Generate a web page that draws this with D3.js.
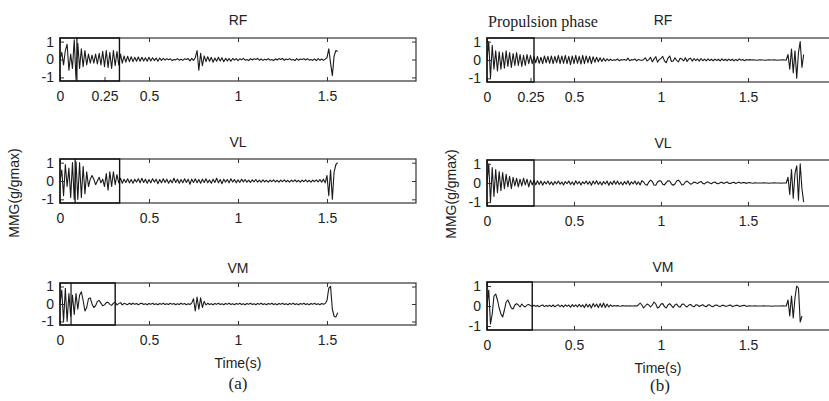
<!DOCTYPE html>
<html>
<head>
<meta charset="utf-8">
<script src="https://cdn.jsdelivr.net/npm/d3@7"></script>
<style>
  body { margin: 0; background: #fff; }
  svg text { font-family: "Liberation Sans", Arial, sans-serif; fill: #222; }
  .serif { font-family: "Liberation Serif", "Times New Roman", serif !important; }
</style>
</head>
<body>
<div id="chart"></div>
<script>
// sampling interval of the traces (s)
const dt = 0.01;

// (a) traces, one value per sample, normalised g/gmax
const aRF = [0, 0.4, -0.3, 0.5, 0.85, -0.6, 0.3, -0.5, 1.1, -1.1,
  0.9, -0.5, 0.6, -0.4, 0.5, -0.3, 0.3, -0.2, 0.25, -0.2,
  0.3, -0.25, 0.35, -0.3, 0.45, -0.4, 0.5, -0.45, 0.4, -0.5,
  0.5, -0.35, 0.45, -0.3, 0.3, -0.2, 0.2, -0.15, 0.18, -0.12,
  0.15, -0.12, 0.12, -0.1, 0.14, -0.1, 0.12, -0.08, 0.1, -0.1,
  0.12, -0.08, 0.1, -0.06, 0.08, -0.1, 0.08, -0.05, 0.06, -0.04,
  0.05, -0.01, 0.04, -0.06, 0.0, -0.02, 0.05, -0.04, 0.01, -0.05,
  0.04, 0.0, 0.05, -0.08, 0.06, -0.05, 0.1, 0.5, -0.6, 0.35,
  -0.35, 0.2, -0.12, 0.15, -0.1, 0.12, -0.15, 0.08, -0.1, 0.12,
  -0.08, 0.1, -0.12, 0.06, -0.08, 0.05, -0.1, 0.06, -0.04, 0.05,
  -0.06, 0.04, -0.01, 0.06, -0.04, 0.0, -0.06, 0.05, -0.03, 0.04,
  0.0, 0.06, -0.04, 0.03, -0.05, 0.01, -0.03, 0.05, -0.04, 0.0,
  -0.06, 0.04, -0.03, 0.05, 0.0, 0.06, -0.05, 0.03, -0.01, 0.05,
  -0.03, 0.0, -0.06, 0.05, -0.04, 0.03, 0.0, 0.04, -0.03, 0.05,
  -0.04, 0.0, -0.05, 0.04, -0.06, 0.05, -0.04, 0.03, -0.05, 0.02,
  0.1, 0.6, -0.2, -0.9, 0.2, 0.5, 0.45];

const aVL = [0, 0.6, -0.8, 0.9, -0.3, 0.7, -0.9, 1.0, -1.0, 1.05,
  -1.0, 1.0, -0.9, 0.8, -0.7, 0.5, -0.3, 0.1, 0.3, 0.1,
  -0.2, 0.0, 0.2, -0.1, 0.1, -0.3, 0.4, -0.5, 0.5, -0.3,
  0.5, -0.2, 0.35, -0.1, 0.15, -0.12, 0.1, -0.08, 0.12, -0.1,
  0.08, -0.12, 0.1, -0.06, 0.12, -0.1, 0.15, -0.08, 0.1, -0.12,
  0.08, -0.1, 0.12, -0.06, 0.1, -0.15, 0.08, -0.1, 0.12, -0.08,
  0.1, -0.12, 0.06, -0.1, 0.15, -0.08, 0.1, -0.12, 0.08, -0.1,
  0.12, -0.08, 0.1, -0.18, 0.1, -0.08, 0.12, -0.1, 0.08, -0.12,
  0.1, -0.08, 0.12, -0.1, 0.06, -0.12, 0.1, -0.08, 0.15, -0.1,
  0.08, -0.15, 0.1, -0.06, 0.08, -0.1, 0.12, -0.06, 0.08, -0.1,
  0.06, -0.08, 0.1, -0.05, 0.08, -0.06, 0.05, -0.08, 0.06, -0.05,
  0.08, -0.06, 0.05, -0.07, 0.06, -0.05, 0.04, -0.06, 0.05, -0.04,
  0.06, -0.05, 0.04, -0.06, 0.05, -0.04, 0.06, -0.05, 0.04, -0.06,
  0.05, -0.04, 0.06, -0.05, 0.04, -0.06, 0.05, -0.04, 0.06, -0.05,
  0.04, -0.06, 0.05, -0.04, 0.06, -0.05, 0.08, -0.06, 0.1, -0.1,
  0.3, -0.8, 0.6, -1.0, 0.5, 0.9, 1.0];

const aVM = [0, 0.8, -1.0, 0.9, -1.0, 0.6, -0.7, 0.5, -0.6, 0.6,
  -0.3, 0.5, 0.7, 0.2, -0.4, -0.2, 0.3, 0.35, 0.0, -0.2,
  -0.1, 0.15, 0.2, 0.05, -0.1, -0.05, 0.08, 0.1, -0.02, -0.08,
  0.05, 0.1, -0.05, 0.02, 0.08, -0.05, 0.04, 0.0, -0.04, 0.05,
  -0.03, 0.04, -0.02, 0.03, -0.04, 0.02, 0.04, -0.03, 0.02, -0.04,
  0.03, -0.02, 0.04, -0.03, 0.02, -0.04, 0.03, -0.02, 0.04, -0.03,
  0.02, -0.03, 0.04, -0.02, 0.03, -0.04, 0.02, -0.03, 0.04, -0.02,
  0.03, -0.04, 0.02, -0.03, 0.05, 0.3, -0.4, 0.4, -0.3, 0.35,
  -0.2, 0.15, -0.05, 0.04, -0.03, 0.02, -0.04, 0.03, -0.02, 0.04,
  -0.03, 0.02, -0.04, 0.03, -0.02, 0.04, -0.03, 0.02, -0.04, 0.03,
  -0.02, 0.04, -0.03, 0.02, -0.04, 0.03, -0.02, 0.04, -0.03, 0.02,
  -0.04, 0.03, -0.02, 0.04, -0.03, 0.02, -0.04, 0.03, -0.02, 0.04,
  -0.03, 0.02, -0.04, 0.03, -0.02, 0.04, -0.03, 0.02, -0.04, 0.03,
  -0.02, 0.04, -0.03, 0.02, -0.04, 0.03, -0.02, 0.04, -0.03, 0.02,
  -0.04, 0.03, -0.02, 0.04, -0.03, 0.02, -0.04, 0.03, -0.02, 0.03,
  0.2, 0.9, 1.0, -0.3, -0.7, -0.75, -0.5];

// (b) traces
const bRF = [0, 1.0, -1.0, 0.8,
  -0.5, 0.5, -0.6, 0.45, -0.5, 0.4, -0.45, 0.5, -0.35, 0.4,
  -0.4, 0.35, -0.3, 0.4, -0.3, 0.3, -0.35, 0.25, -0.3, 0.3, -0.2, 0.25, -0.2,
  0.2, -0.15, 0.2, -0.18, 0.15, -0.2, 0.22, -0.15, 0.2, -0.18,
  0.22, -0.2, 0.2, -0.15, 0.25, -0.2, 0.22, -0.18, 0.25, -0.2,
  0.2, -0.25, 0.22, -0.2, 0.25, -0.18, 0.2, -0.22, 0.25, -0.2,
  0.22, -0.15, 0.2, -0.2, 0.18, -0.12, 0.15, -0.1, 0.12, -0.08,
  0.1, -0.06, 0.06, -0.04, 0.05, -0.03,
  0.02, -0.02, 0.06, -0.04, 0.02, 0.0, 0.03, -0.02, 0.1, -0.04,
  0.02, 0.0, 0.06, -0.05, 0.03, 0.0, -0.02, 0.02,
  0.12, -0.05, 0.02, 0.15, -0.1, 0.05, 0.18, -0.12, 0.02, 0.08,
  0.2, -0.05, -0.15, 0.1, 0.22, -0.08, -0.05, 0.12, -0.02, -0.1,
  0.1, 0.05, -0.05, 0.12, -0.08, 0.06, 0.1, -0.06, 0.08, -0.04,
  0.06, -0.06, 0.08, -0.04, 0.05, -0.05, 0.06, -0.03, 0.04, -0.05,
  0.05, -0.03, 0.04, -0.05, 0.06, -0.03, 0.04, -0.04, 0.05, -0.03,
  0.04, -0.05, 0.03, -0.04, 0.06, -0.02, 0.03, -0.04, 0.02, 0.0, 0.02,
  0, 0.01, 0, -0.01, 0, 0.01, 0, 0, -0.01, 0, 0.01, 0, 0, 0.01, 0, -0.01, 0, 0, 0.01, 0, 0,
  0.3, -0.5, 0.6, -0.7, 0.5, -1.0, 0.4, 1.0, -0.4, 0.3];

const bVL = [0, 1.0, -1.0, 0.8, -0.7, 0.7, -0.5, 0.6, -0.4, 0.55,
  -0.3, 0.45, -0.2, 0.35, -0.3, 0.3, -0.15, 0.25, -0.2, 0.2,
  -0.15, 0.25, -0.1, 0.2, -0.2, 0.15, -0.1,
  0.15, -0.1, 0.12, -0.08, 0.1, -0.12, 0.08, -0.05, 0.1, -0.08,
  0.06, -0.1, 0.08, -0.05, 0.1, -0.06, 0.05, -0.1, 0.08, -0.04,
  0.1, -0.08, 0.06, -0.1, 0.12, -0.05, 0.08, -0.1, 0.06, -0.04,
  0.1, -0.06, 0.08, -0.12, 0.1, -0.05, 0.12, -0.08, 0.06, -0.1,
  0.08, -0.05, 0.1, -0.12, 0.06, -0.08, 0.12, -0.06, 0.1, -0.08,
  0.05, -0.1, 0.08, -0.06, 0.12, -0.1, 0.06, -0.05, 0.1, -0.08,
  0.06, -0.1, 0.12, 0.05, -0.08, -0.12, 0.05, 0.15, 0.08, -0.1,
  -0.12, 0.05, 0.12, 0.1, -0.06, -0.1, 0.02, 0.12, 0.1, -0.05,
  -0.12, -0.05, 0.1, 0.15, 0.05, -0.1, -0.08, 0.05, 0.1, 0.02,
  -0.06, -0.02, 0.05, 0.02, -0.03, 0.04, 0.08, -0.02, -0.05, 0.03,
  0.06, 0.0, -0.04, 0.03, 0.05, -0.02, -0.04, 0.02, 0.04, -0.03,
  0.02, 0.05, -0.02, -0.03, 0.03, 0.04, -0.03, 0.02, 0.04, -0.02,
  0.03, 0.02, -0.02, 0.01, 0.02, 0.0, -0.01, 0.01, 0.0, 0.0,
  0, 0, 0.01, 0, 0, -0.01, 0, 0, 0.01, 0, 0, 0, -0.01, 0, 0, 0,
  0.3, -0.6, 0.7, -0.8, 0.5, 0.9, -0.9, 1.0, -0.3, -1.0];

const bVM = [0, 0.8, -0.9, -0.4, 0.5, 0.6, 0.3, -0.1, -0.4, -0.55,
  -0.2, 0.2, 0.3, 0.1, -0.1, -0.15, 0.05, 0.12, 0.05, -0.05,
  0.1, 0.0, -0.05, 0.05, 0.08, 0.02, -0.03,
  0.04, -0.02, 0.03, -0.04, 0.02, 0.05, -0.03, 0.03, -0.02, 0.04,
  -0.03, 0.05, -0.04, 0.02, 0.06, -0.03, 0.04, -0.05, 0.06, -0.02,
  0.05, -0.06, 0.07, -0.03, 0.06, -0.05, 0.08, -0.04, 0.06, -0.08,
  0.1, -0.05, 0.08, -0.1, 0.12, -0.04, 0.1, -0.08, 0.12, -0.06,
  0.15, -0.08, 0.1, -0.05, 0.06, -0.02, 0.02, 0.0, 0.02, 0.0,
  -0.01, 0.02, 0.0, 0.01, 0.0, 0.01, 0.0, 0.0, 0.01, 0.0,
  0.05, 0.15, 0.05, -0.1, 0.0, 0.1, 0.05, -0.05, 0.05, 0.2,
  0.1, -0.1, -0.05, 0.1, 0.12, -0.03, -0.1, 0.05, 0.12, 0.02,
  -0.08, 0.05, 0.1, -0.02, -0.06, 0.08, 0.1, 0.0, -0.05, 0.05,
  0.08, 0.0, -0.04, 0.06, 0.05, -0.03, 0.02, 0.06, 0.0, -0.04,
  0.05, 0.06, -0.02, -0.03, 0.04, 0.05, 0.0, -0.03, 0.03, 0.04,
  -0.02, 0.0, 0.03, 0.05, -0.03, 0.0, 0.03, 0.04, -0.02, 0.0,
  0.02, 0.04, -0.02, 0.0, 0.01, 0.0, 0.0, 0.01, 0.0, 0.0,
  0, 0, 0.01, 0, 0, 0, 0, -0.01, 0, 0, 0, 0, 0, 0.01, 0, 0,
  0.3, -0.5, 0.5, -0.6, 0.4, 1.0, 0.9, -0.8, -0.5];

// phase boxes: end of propulsion phase (s) and extra marker line in (a)
const muscles = ["RF", "VL", "VM"];
const phaseEndA = [0.334, 0.335, 0.31];
const markerA = [0.095, 0.085, 0.062];
const phaseEndB = [0.27, 0.27, 0.26];

const xTicksRF = [0, 0.25, 0.5, 1, 1.5];
const xTicks = [0, 0.5, 1, 1.5];
const yTicks = [-1, 0, 1];

const width = 829, height = 401;

const svg = d3.select("#chart").append("svg")
  .attr("width", width)
  .attr("height", height);

// layout of the two columns of panels
const columns = [
  { label: "(a)", x0: 60, x1: 416, rows: [[38, 81], [159, 203], [283, 325]],
    traces: [aRF, aVL, aVM], ends: phaseEndA, markers: markerA,
    ylabX: 19, ylabY: 193, labY: 389 },
  { label: "(b)", x0: 487, x1: 835, rows: [[38, 82], [160, 206], [282, 330]],
    traces: [bRF, bVL, bVM], ends: phaseEndB, markers: null,
    ylabX: 456, ylabY: 194, labY: 391 }
];
const titleGap = [13, 12, 10];

const fmt = d => String(d);

columns.forEach((col, ci) => {
  const x = d3.scaleLinear().domain([0, 2]).range([col.x0, col.x1]);

  col.rows.forEach((r, ri) => {
    const y = d3.scaleLinear().domain([-1.2, 1.2]).range([r[1], r[0]]);
    const g = svg.append("g");
    const clipId = `clip-${ci}-${ri}`;

    g.append("clipPath").attr("id", clipId)
      .append("rect")
        .attr("x", col.x0).attr("y", r[0])
        .attr("width", col.x1 - col.x0).attr("height", r[1] - r[0]);

    // title
    g.append("text")
      .attr("x", (col.x0 + col.x1) / 2 + (ci ? 2 : 0))
      .attr("y", r[0] - titleGap[ri])
      .attr("text-anchor", "middle")
      .style("font-size", "14px")
      .text(muscles[ri]);

    // trace
    const line = d3.line()
      .x((d, i) => x(i * dt))
      .y(d => y(d));
    g.append("path")
      .datum(col.traces[ri])
      .attr("clip-path", `url(#${clipId})`)
      .attr("fill", "none")
      .attr("stroke", "#1a1a1a")
      .attr("stroke-width", 1.1)
      .attr("stroke-linejoin", "round")
      .attr("d", line);

    // axes, ticks pointing inward like matlab
    const xt = ri === 0 ? xTicksRF : xTicks;
    g.append("g")
      .attr("transform", `translate(0,${r[1]})`)
      .call(d3.axisBottom(x).tickValues(xt).tickFormat(fmt).tickSize(-4).tickPadding(10))
      .call(a => a.selectAll("text").style("font-size", "14px"));
    g.append("g")
      .attr("transform", `translate(0,${r[0]})`)
      .call(d3.axisTop(x).tickValues(xTicks).tickFormat("").tickSize(-4));
    g.append("g")
      .attr("transform", `translate(${col.x0},0)`)
      .call(d3.axisLeft(y).tickValues(yTicks).tickFormat(fmt).tickSize(-4).tickPadding(6))
      .call(a => a.selectAll("text").style("font-size", "14px"));
    g.append("g")
      .attr("transform", `translate(${col.x1},0)`)
      .call(d3.axisRight(y).tickValues(yTicks).tickFormat("").tickSize(-4));
    g.selectAll(".domain").remove();
    g.selectAll(".tick line").attr("stroke", "#333");

    // axes frame
    g.append("rect")
      .attr("x", col.x0).attr("y", r[0])
      .attr("width", col.x1 - col.x0).attr("height", r[1] - r[0])
      .attr("fill", "none").attr("stroke", "#333").attr("stroke-width", 1.2);

    // propulsion phase box
    g.append("rect")
      .attr("x", x(0)).attr("y", r[0])
      .attr("width", x(col.ends[ri]) - x(0)).attr("height", r[1] - r[0])
      .attr("fill", "none").attr("stroke", "#111").attr("stroke-width", 1.4);

    if (col.markers) {
      g.append("line")
        .attr("x1", x(col.markers[ri])).attr("x2", x(col.markers[ri]))
        .attr("y1", r[0]).attr("y2", r[1])
        .attr("stroke", "#111").attr("stroke-width", 1.2);
    }
  });

  // y label
  svg.append("text")
    .attr("transform", `translate(${col.ylabX},${col.ylabY}) rotate(-90)`)
    .attr("text-anchor", "middle")
    .style("font-size", "14px")
    .text("MMG(g/gmax)");

  // x label
  const last = col.rows[2];
  svg.append("text")
    .attr("x", (col.x0 + col.x1) / 2 - (ci ? 3 : 0))
    .attr("y", last[1] + 43)
    .attr("text-anchor", "middle")
    .style("font-size", "14px")
    .text("Time(s)");

  svg.append("text")
    .attr("class", "serif")
    .attr("x", (col.x0 + col.x1) / 2 - (ci ? 1 : 0))
    .attr("y", col.labY)
    .attr("text-anchor", "middle")
    .style("font-size", "17px")
    .text(col.label);
});

svg.append("text")
  .attr("class", "serif")
  .attr("x", 488)
  .attr("y", 27)
  .style("font-size", "16px")
  .text("Propulsion phase");
</script>
</body>
</html>
